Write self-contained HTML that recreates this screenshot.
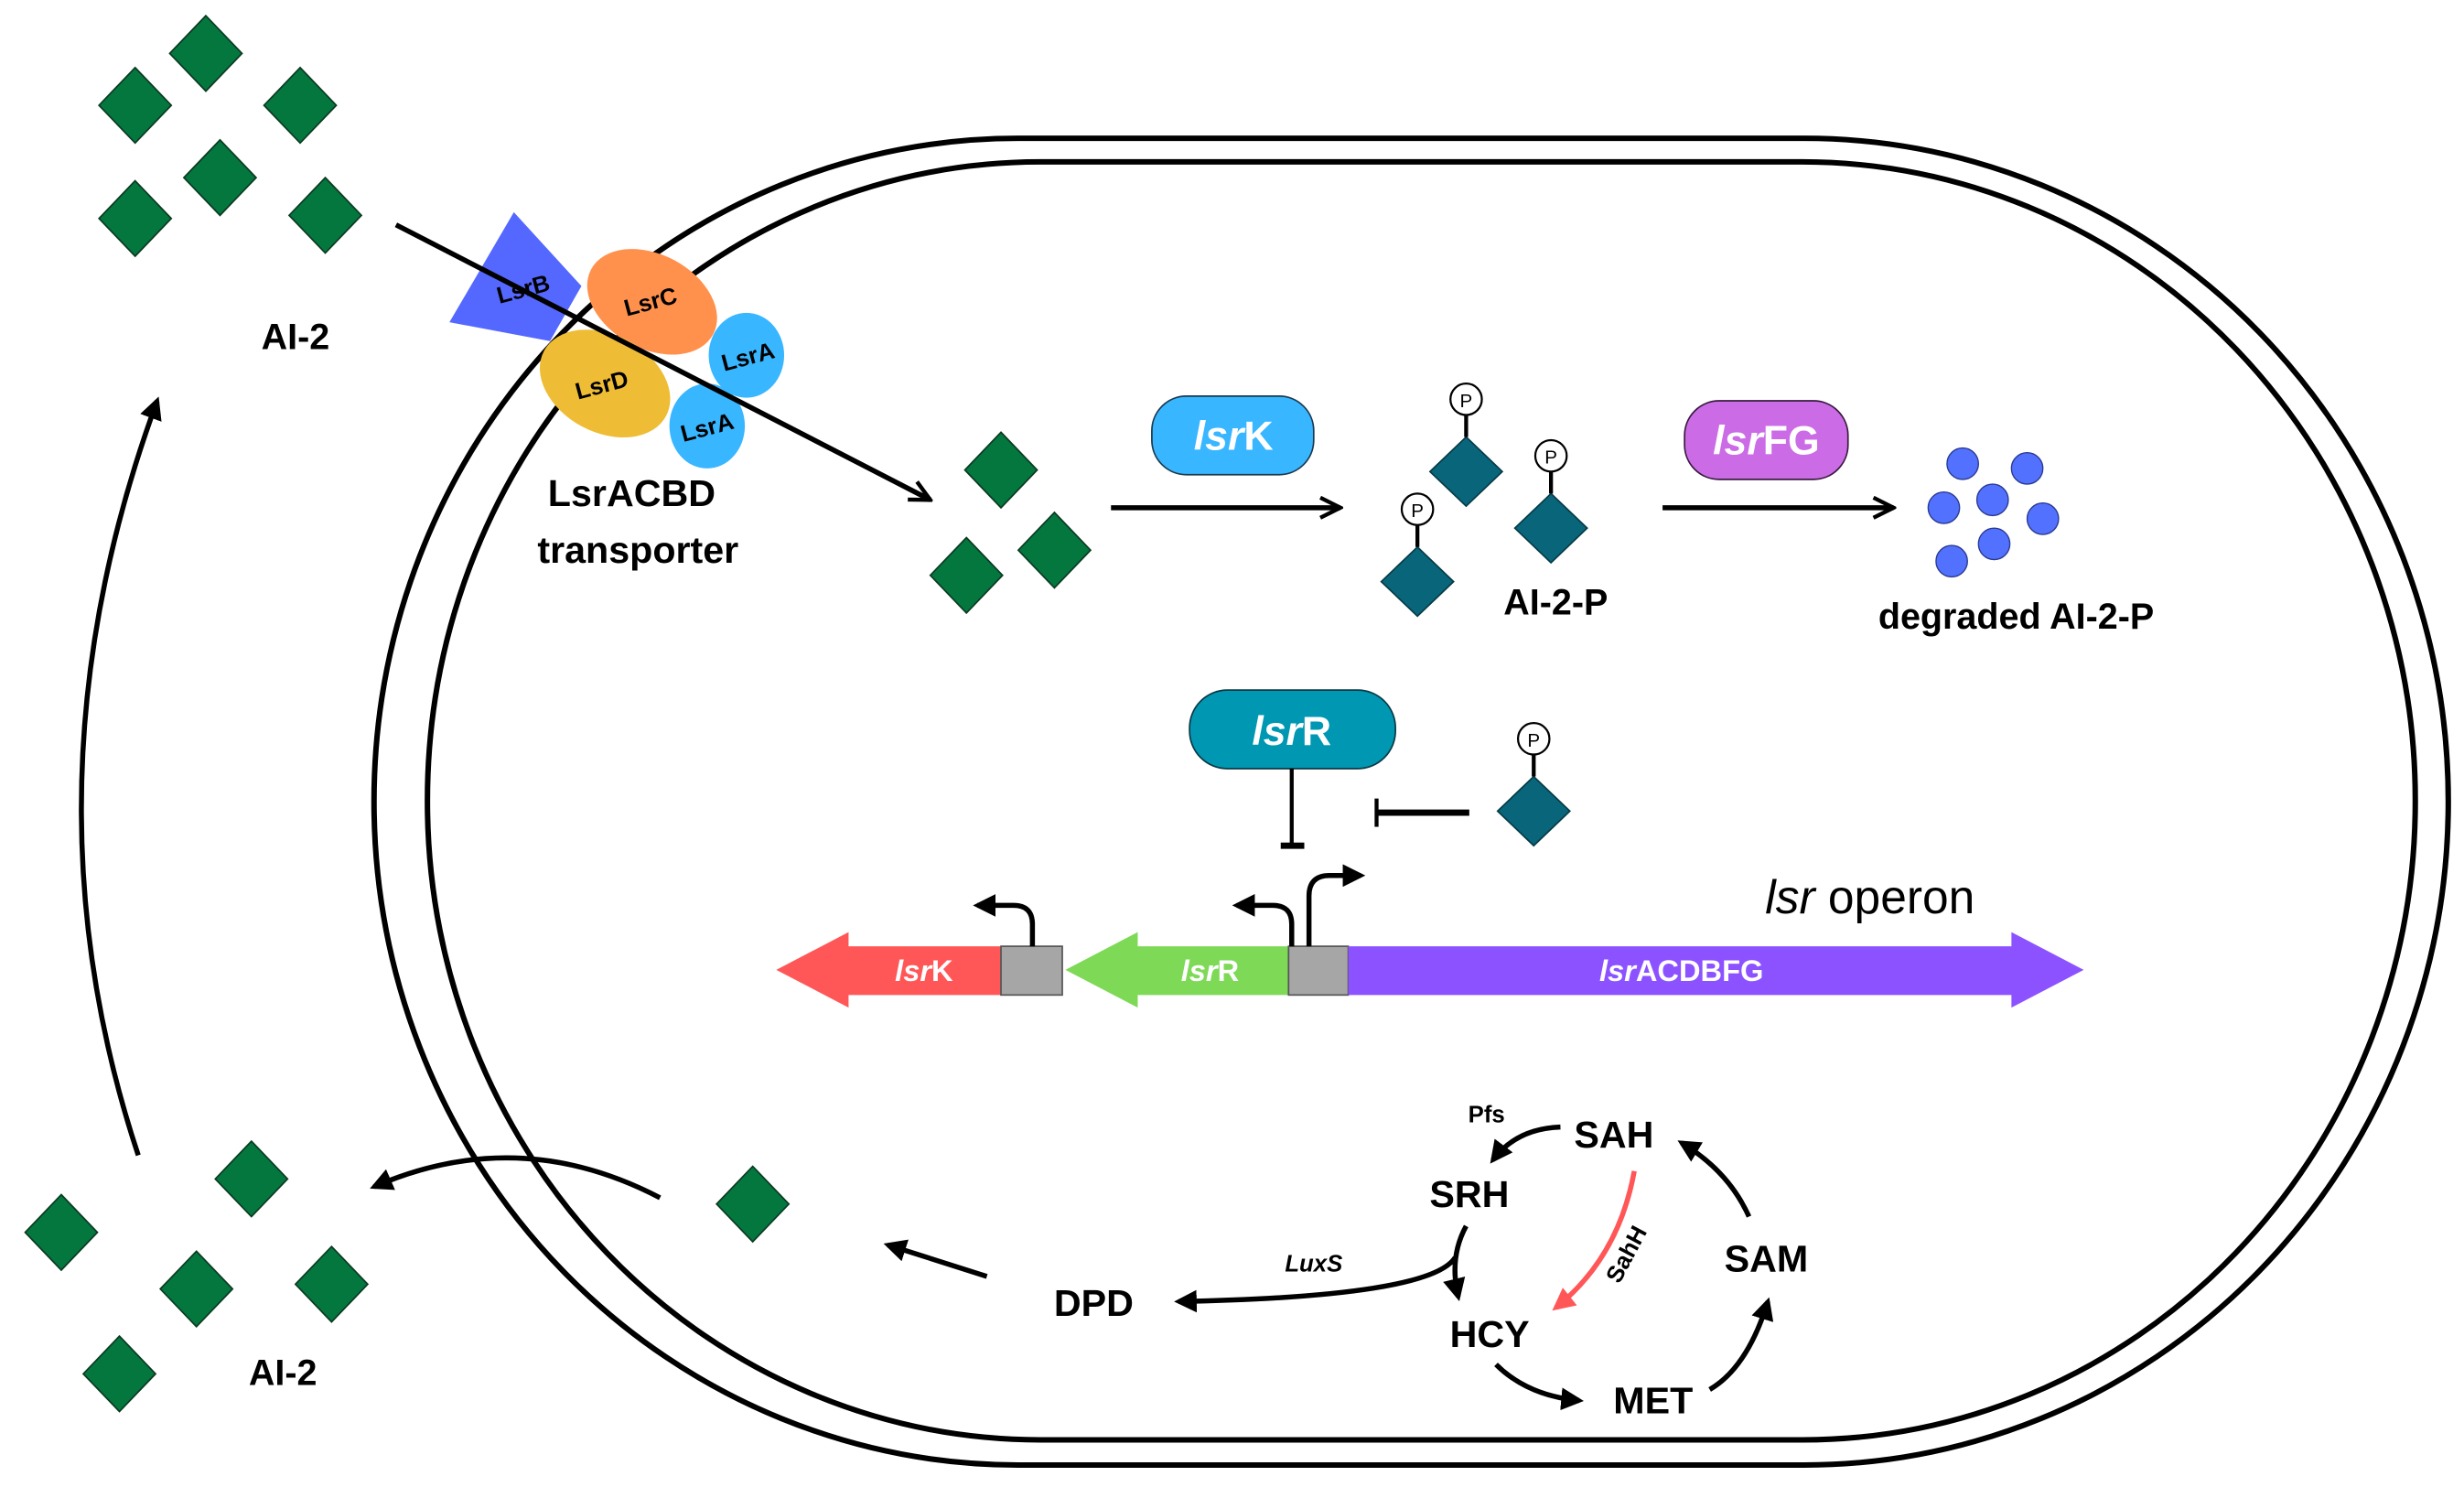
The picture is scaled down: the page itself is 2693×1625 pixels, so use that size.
<!DOCTYPE html>
<html><head><meta charset="utf-8"><style>
html,body{margin:0;padding:0;background:#fff;}
svg{display:block;}
text{font-family:"Liberation Sans",sans-serif;font-weight:bold;}
</style></head><body>
<svg width="2693" height="1625" viewBox="0 0 1568 946" preserveAspectRatio="none" xmlns="http://www.w3.org/2000/svg">
<defs>
<marker id="ah" viewBox="0 0 10 10" refX="8" refY="5" markerWidth="4.5" markerHeight="4.5" orient="auto-start-reverse"><path d="M0,0 L10,5 L0,10 z" fill="#000"/></marker>
<marker id="ahr" viewBox="0 0 10 10" refX="8" refY="5" markerWidth="4.5" markerHeight="4.5" orient="auto"><path d="M0,0 L10,5 L0,10 z" fill="#ff5757"/></marker>
<marker id="chev" viewBox="0 0 10 10" refX="9" refY="5" markerWidth="5" markerHeight="5" orient="auto"><path d="M1,1 L9,5 L1,9" fill="none" stroke="#000" stroke-width="1.6"/></marker>
<g id="gd"><path d="M0,-24 L23,0 L0,24 L-23,0 z" fill="#04773f" stroke="#0a3a20" stroke-width="1"/></g>
<g id="td"><path d="M0,-22 L23,0 L0,22 L-23,0 z" fill="#09667a" stroke="#063b47" stroke-width="1"/><line x1="0" y1="-22" x2="0" y2="-36" stroke="#000" stroke-width="2.5"/><circle cx="0" cy="-46" r="10" fill="#fff" stroke="#000" stroke-width="1.3"/><text x="0" y="-41" font-size="12" style="font-weight:normal" text-anchor="middle">P</text></g>
</defs>
<rect x="238" y="88" width="1320" height="844" rx="410" ry="422" fill="none" stroke="#000" stroke-width="3.5"/>
<rect x="272" y="103" width="1265" height="813" rx="390" ry="406" fill="none" stroke="#000" stroke-width="3.5"/>
<use href="#gd" x="131" y="34"/><use href="#gd" x="86" y="67"/><use href="#gd" x="191" y="67"/>
<use href="#gd" x="140" y="113"/><use href="#gd" x="86" y="139"/><use href="#gd" x="207" y="137"/>
<text x="188" y="222" font-size="23" text-anchor="middle">AI-2</text>
<polygon points="327,135 370,182 350,217 286,205" fill="#5468ff"/>
<ellipse cx="415" cy="192" rx="44" ry="30" transform="rotate(28 415 192)" fill="#ff914d"/>
<ellipse cx="385" cy="244" rx="44" ry="31" transform="rotate(28 385 244)" fill="#efbc35"/>
<ellipse cx="475" cy="226" rx="24" ry="27" fill="#38b6ff"/>
<ellipse cx="450" cy="271" rx="24" ry="27" fill="#38b6ff"/>
<g font-size="15" text-anchor="middle">
<text x="333" y="189" transform="rotate(-15 333 184)">LsrB</text>
<text x="414" y="197" transform="rotate(-15 414 192)">LsrC</text>
<text x="383" y="250" transform="rotate(-15 383 245)">LsrD</text>
<text x="476" y="232" transform="rotate(-15 476 227)">LsrA</text>
<text x="450" y="277" transform="rotate(-15 450 272)">LsrA</text>
</g>
<line x1="252" y1="143" x2="592" y2="318" stroke="#000" stroke-width="3.2" marker-end="url(#chev)"/>
<text x="402" y="322" font-size="24" text-anchor="middle">LsrACBD</text>
<text x="406" y="358" font-size="24" text-anchor="middle">transporter</text>
<use href="#gd" x="637" y="299"/><use href="#gd" x="615" y="366"/><use href="#gd" x="671" y="350"/>
<line x1="707" y1="323" x2="853" y2="323" stroke="#000" stroke-width="3.2" marker-end="url(#chev)"/>
<rect x="733" y="252" width="103" height="50" rx="22" fill="#38b6ff" stroke="#1a3a50" stroke-width="1"/>
<text x="785" y="286" font-size="26" fill="#fff" text-anchor="middle"><tspan font-style="italic">lsr</tspan>K</text>
<use href="#td" x="933" y="300"/><use href="#td" x="987" y="336"/><use href="#td" x="902" y="370"/>
<text x="990" y="391" font-size="23" text-anchor="middle">AI-2-P</text>
<line x1="1058" y1="323" x2="1205" y2="323" stroke="#000" stroke-width="3.2" marker-end="url(#chev)"/>
<rect x="1072" y="255" width="104" height="50" rx="22" fill="#cb6ce6" stroke="#3a1a40" stroke-width="1"/>
<text x="1124" y="289" font-size="26" fill="#fff" text-anchor="middle"><tspan font-style="italic">lsr</tspan>FG</text>
<g fill="#5271ff" stroke="#2a3a90" stroke-width="0.8">
<circle cx="1249" cy="295" r="10"/><circle cx="1290" cy="298" r="10"/><circle cx="1237" cy="323" r="10"/>
<circle cx="1268" cy="318" r="10"/><circle cx="1300" cy="330" r="10"/><circle cx="1242" cy="357" r="10"/><circle cx="1269" cy="346" r="10"/>
</g>
<text x="1283" y="400" font-size="23" text-anchor="middle">degraded AI-2-P</text>
<rect x="757" y="439" width="131" height="50" rx="24" fill="#0097b2" stroke="#0a3a45" stroke-width="1"/>
<text x="822" y="474" font-size="26" fill="#fff" text-anchor="middle"><tspan font-style="italic">lsr</tspan>R</text>
<line x1="822" y1="489" x2="822" y2="538" stroke="#000" stroke-width="2.5"/>
<line x1="815" y1="538" x2="830" y2="538" stroke="#000" stroke-width="4"/>
<line x1="876" y1="517" x2="935" y2="517" stroke="#000" stroke-width="4"/>
<line x1="876" y1="508" x2="876" y2="526" stroke="#000" stroke-width="2.5"/>
<use href="#td" x="976" y="516"/>
<text x="1190" y="581" font-size="30" style="font-weight:normal" text-anchor="middle"><tspan font-style="italic">lsr</tspan> operon</text>
<polygon points="494,617 540,593 540,602 637,602 637,633 540,633 540,641" fill="#ff5757"/>
<rect x="637" y="602" width="39" height="31" fill="#a6a6a6" stroke="#555" stroke-width="1"/>
<polygon points="678,617 724,593 724,602 820,602 820,633 724,633 724,641" fill="#7ed957"/>
<rect x="820" y="602" width="38" height="31" fill="#a6a6a6" stroke="#555" stroke-width="1"/>
<polygon points="858,602 1280,602 1280,593 1326,617 1280,641 1280,633 858,633" fill="#8c52ff"/>
<g font-size="19" fill="#fff" text-anchor="middle">
<text x="588" y="624"><tspan font-style="italic">lsr</tspan>K</text>
<text x="770" y="624"><tspan font-style="italic">lsr</tspan>R</text>
<text x="1070" y="624"><tspan font-style="italic">lsr</tspan>ACDBFG</text>
</g>
<g fill="none" stroke="#000" stroke-width="3.2">
<path d="M657,602 V588 Q657,576 645,576 H622" marker-end="url(#ah)"/>
<path d="M822,602 V588 Q822,576 810,576 H787" marker-end="url(#ah)"/>
<path d="M833,602 V570 Q833,557 846,557 H866" marker-end="url(#ah)"/>
</g>
<g font-size="24" text-anchor="middle">
<text x="1027" y="730">SAH</text><text x="935" y="768">SRH</text><text x="948" y="857">HCY</text>
<text x="1052" y="899">MET</text><text x="1124" y="809">SAM</text><text x="696" y="837">DPD</text>
</g>
<text x="946" y="714" font-size="15" text-anchor="middle">Pfs</text>
<text x="836" y="809" font-size="15" font-style="italic" text-anchor="middle">LuxS</text>
<text x="1035" y="803" font-size="15" text-anchor="middle" transform="rotate(-62 1035 798)">SahH</text>
<g fill="none" stroke="#000" stroke-width="3.2">
<path d="M993,717 Q965,718 950,738" marker-end="url(#ah)"/>
<path d="M933,780 Q922,800 928,825" marker-end="url(#ah)"/>
<path d="M926,800 Q910,825 750,828" marker-end="url(#ah)"/>
<path d="M952,868 Q972,888 1005,891" marker-end="url(#ah)"/>
<path d="M1088,884 Q1112,870 1125,828" marker-end="url(#ah)"/>
<path d="M1113,774 Q1100,745 1070,727" marker-end="url(#ah)"/>
<path d="M628,812 L565,792" marker-end="url(#ah)"/>
<path d="M420,762 Q330,715 238,755" marker-end="url(#ah)"/>
<path d="M88,735 Q10,500 100,255" marker-end="url(#ah)"/>
</g>
<path d="M1040,745 Q1030,800 990,832" fill="none" stroke="#ff5757" stroke-width="3.2" marker-end="url(#ahr)"/>
<use href="#gd" x="479" y="766"/>
<use href="#gd" x="160" y="750"/><use href="#gd" x="39" y="784"/><use href="#gd" x="125" y="820"/>
<use href="#gd" x="211" y="817"/><use href="#gd" x="76" y="874"/>
<text x="180" y="881" font-size="23" text-anchor="middle">AI-2</text>
</svg>
</body></html>
